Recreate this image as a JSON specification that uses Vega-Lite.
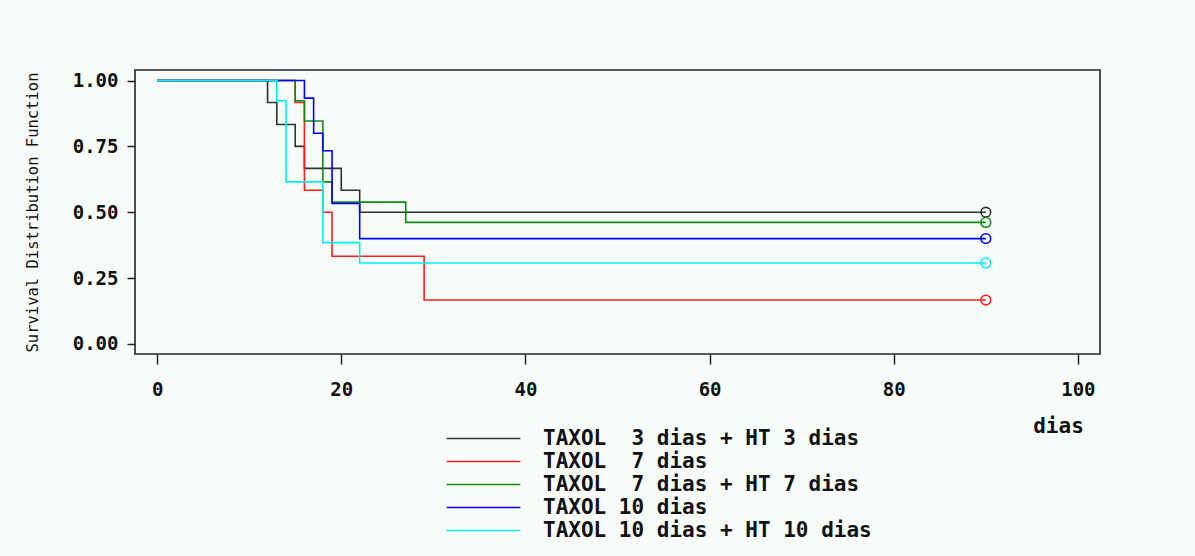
{
  "$schema": "https://vega.github.io/schema/vega-lite/v6.json",
  "autosize": {"type": "none"},
  "padding": {"left": 135, "top": 70, "right": 95, "bottom": 202},
  "width": 965,
  "height": 284,
  "background": "#f8fcf9",
  "config": {
    "view": {"stroke": "#222222", "strokeWidth": 1.6, "fill": "#f8fcf9"},
    "axis": {
      "grid": false,
      "domain": false,
      "tickColor": "#222222",
      "tickWidth": 1.5,
      "labelFont": "DejaVu Sans Mono",
      "labelFontWeight": "bold",
      "labelFontSize": 19,
      "labelColor": "#111111",
      "titleColor": "#111111"
    },
    "legend": {"padding": 0}
  },
  "data": {
    "values": [
      {"g": "TAXOL\u00a0\u00a03 dias + HT 3 dias", "t": 0, "s": 1, "c": 0},
      {"g": "TAXOL\u00a0\u00a03 dias + HT 3 dias", "t": 12, "s": 0.9167, "c": 0},
      {"g": "TAXOL\u00a0\u00a03 dias + HT 3 dias", "t": 13, "s": 0.8333, "c": 0},
      {"g": "TAXOL\u00a0\u00a03 dias + HT 3 dias", "t": 15, "s": 0.75, "c": 0},
      {"g": "TAXOL\u00a0\u00a03 dias + HT 3 dias", "t": 16, "s": 0.6667, "c": 0},
      {"g": "TAXOL\u00a0\u00a03 dias + HT 3 dias", "t": 20, "s": 0.5833, "c": 0},
      {"g": "TAXOL\u00a0\u00a03 dias + HT 3 dias", "t": 22, "s": 0.5, "c": 0},
      {"g": "TAXOL\u00a0\u00a03 dias + HT 3 dias", "t": 90, "s": 0.5, "c": 1},
      {"g": "TAXOL\u00a0\u00a07 dias", "t": 0, "s": 1, "c": 0},
      {"g": "TAXOL\u00a0\u00a07 dias", "t": 15, "s": 0.9167, "c": 0},
      {"g": "TAXOL\u00a0\u00a07 dias", "t": 16, "s": 0.5833, "c": 0},
      {"g": "TAXOL\u00a0\u00a07 dias", "t": 18, "s": 0.5, "c": 0},
      {"g": "TAXOL\u00a0\u00a07 dias", "t": 19, "s": 0.3333, "c": 0},
      {"g": "TAXOL\u00a0\u00a07 dias", "t": 29, "s": 0.1667, "c": 0},
      {"g": "TAXOL\u00a0\u00a07 dias", "t": 90, "s": 0.1667, "c": 1},
      {"g": "TAXOL\u00a0\u00a07 dias + HT 7 dias", "t": 0, "s": 1, "c": 0},
      {"g": "TAXOL\u00a0\u00a07 dias + HT 7 dias", "t": 15, "s": 0.9231, "c": 0},
      {"g": "TAXOL\u00a0\u00a07 dias + HT 7 dias", "t": 16, "s": 0.8462, "c": 0},
      {"g": "TAXOL\u00a0\u00a07 dias + HT 7 dias", "t": 18, "s": 0.6154, "c": 0},
      {"g": "TAXOL\u00a0\u00a07 dias + HT 7 dias", "t": 19, "s": 0.5385, "c": 0},
      {"g": "TAXOL\u00a0\u00a07 dias + HT 7 dias", "t": 27, "s": 0.4615, "c": 0},
      {"g": "TAXOL\u00a0\u00a07 dias + HT 7 dias", "t": 90, "s": 0.4615, "c": 1},
      {"g": "TAXOL 10 dias", "t": 0, "s": 1, "c": 0},
      {"g": "TAXOL 10 dias", "t": 16, "s": 0.9333, "c": 0},
      {"g": "TAXOL 10 dias", "t": 17, "s": 0.8, "c": 0},
      {"g": "TAXOL 10 dias", "t": 18, "s": 0.7333, "c": 0},
      {"g": "TAXOL 10 dias", "t": 19, "s": 0.5333, "c": 0},
      {"g": "TAXOL 10 dias", "t": 22, "s": 0.4, "c": 0},
      {"g": "TAXOL 10 dias", "t": 90, "s": 0.4, "c": 1},
      {"g": "TAXOL 10 dias + HT 10 dias", "t": 0, "s": 1, "c": 0},
      {"g": "TAXOL 10 dias + HT 10 dias", "t": 13, "s": 0.9231, "c": 0},
      {"g": "TAXOL 10 dias + HT 10 dias", "t": 14, "s": 0.6154, "c": 0},
      {"g": "TAXOL 10 dias + HT 10 dias", "t": 18, "s": 0.3846, "c": 0},
      {"g": "TAXOL 10 dias + HT 10 dias", "t": 22, "s": 0.3077, "c": 0},
      {"g": "TAXOL 10 dias + HT 10 dias", "t": 90, "s": 0.3077, "c": 1}
    ]
  },
  "encoding": {
    "x": {
      "field": "t",
      "type": "quantitative",
      "scale": {"domain": [-2.4, 102.4], "nice": false, "zero": false},
      "axis": {
        "values": [0, 20, 40, 60, 80, 100],
        "tickSize": 10,
        "labelPadding": 16,
        "title": "dias",
        "titleFont": "DejaVu Sans Mono",
        "titleFontWeight": "bold",
        "titleFontSize": 21,
        "titleAngle": 0,
        "titleAlign": "center",
        "titleBaseline": "middle",
        "titleX": 923,
        "titleY": 72
      }
    },
    "y": {
      "field": "s",
      "type": "quantitative",
      "scale": {"domain": [-0.038, 1.04], "nice": false, "zero": false},
      "axis": {
        "values": [0, 0.25, 0.5, 0.75, 1],
        "format": ".2f",
        "tickSize": 8,
        "labelPadding": 9,
        "title": "Survival Distribution Function",
        "titleFont": "DejaVu Sans Mono",
        "titleFontWeight": "normal",
        "titleFontSize": 15.5,
        "titleAngle": -90,
        "titleAlign": "center",
        "titleBaseline": "middle",
        "titleX": -103,
        "titleY": 142
      }
    },
    "color": {
      "field": "g",
      "type": "nominal",
      "scale": {
        "domain": ["TAXOL\u00a0\u00a03 dias + HT 3 dias", "TAXOL\u00a0\u00a07 dias", "TAXOL\u00a0\u00a07 dias + HT 7 dias", "TAXOL 10 dias", "TAXOL 10 dias + HT 10 dias"],
        "range": ["#303030", "#ff1c1c", "#108a10", "#0000ff", "#00f0f0"]
      },
      "legend": {
        "orient": "none",
        "legendX": 338,
        "legendY": 358,
        "title": null,
        "symbolType": "M-4,0H4",
        "symbolSize": 340,
        "symbolStrokeWidth": 1.6,
        "labelFont": "DejaVu Sans Mono",
        "labelFontWeight": "bold",
        "labelFontSize": 21,
        "labelColor": "#111111",
        "labelOffset": 49,
        "labelLimit": 600,
        "rowPadding": 1
      }
    }
  },
  "layer": [
    {
      "mark": {"type": "line", "interpolate": "step-after", "strokeWidth": 1.6}
    },
    {
      "transform": [{"filter": "datum.c == 1"}],
      "mark": {"type": "point", "shape": "circle", "filled": false, "size": 95, "strokeWidth": 1.6, "opacity": 1}
    }
  ]
}
